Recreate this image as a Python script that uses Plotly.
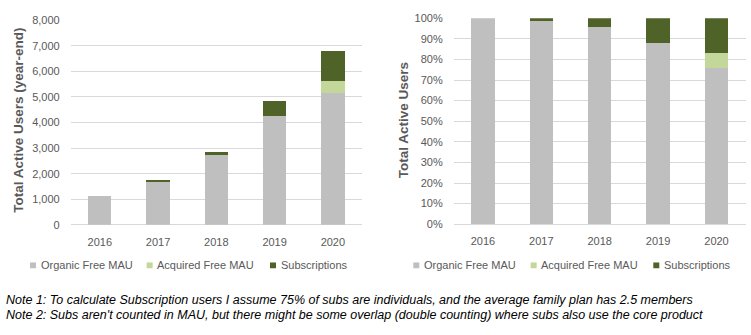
import plotly.graph_objects as go

years = ["2016", "2017", "2018", "2019", "2020"]
organic = [1130, 1705, 2740, 4270, 5160]
acquired = [0, 0, 0, 0, 480]
subs = [0, 25, 125, 590, 1150]

series_names = ["Organic Free MAU", "Acquired Free MAU", "Subscriptions"]
colors = ["#bfbfbf", "#c4d79b", "#4f6228"]
left_ticks = [0, 1000, 2000, 3000, 4000, 5000, 6000, 7000, 8000]
right_ticks = [0, 10, 20, 30, 40, 50, 60, 70, 80, 90, 100]

notes = [
    "Note 1: To calculate Subscription users I assume 75% of subs are individuals, and the average family plan has 2.5 members",
    "Note 2: Subs aren't counted in MAU, but there might be some overlap (double counting) where subs also use the core product",
]

totals = [o + a + s for o, a, s in zip(organic, acquired, subs)]
pct = [[v / t * 100 for v, t in zip(ser, totals)] for ser in (organic, acquired, subs)]

W, H = 751, 335
TXT = "#595959"
FONT = "Liberation Sans"

fig = go.Figure()
for i, ser in enumerate((organic, acquired, subs)):
    fig.add_trace(go.Bar(x=years, y=ser, name=series_names[i], marker_color=colors[i],
                         marker_line_width=0, xaxis="x", yaxis="y", showlegend=False))
for i, ser in enumerate(pct):
    fig.add_trace(go.Bar(x=years, y=ser, name=series_names[i], marker_color=colors[i],
                         marker_line_width=0, xaxis="x2", yaxis="y2", showlegend=False))

def px(x):
    return x / W

def py(y):
    return 1 - y / H

axis_common = dict(showline=False, ticks="", tickfont=dict(family=FONT, size=11, color=TXT))
fig.update_layout(
    width=W, height=H, margin=dict(l=0, r=0, t=0, b=0),
    paper_bgcolor="white", plot_bgcolor="white",
    barmode="stack", bargap=0.6,
    font=dict(family=FONT, color=TXT),
    xaxis=dict(domain=[px(70.7), px(362)], anchor="y", showgrid=False, ticklabelstandoff=9,
               **axis_common),
    yaxis=dict(domain=[py(227), py(14.7)], anchor="x", range=[0, 8000], tickvals=left_ticks,
               tickformat=",d", gridcolor="#d9d9d9", gridwidth=1, zeroline=True,
               zerolinecolor="#d9d9d9", zerolinewidth=1, ticklabelstandoff=10, **axis_common),
    xaxis2=dict(domain=[px(453.7), px(745.7)], anchor="y2", showgrid=False, ticklabelstandoff=9,
                **axis_common),
    yaxis2=dict(domain=[py(226.3), py(12.7)], anchor="x2", range=[0, 100], tickvals=right_ticks,
                ticktext=[f"{t}%" for t in right_ticks], gridcolor="#d9d9d9", gridwidth=1,
                zeroline=True, zerolinecolor="#d9d9d9", zerolinewidth=1, ticklabelstandoff=10,
                **axis_common),
    showlegend=False,
)

# Legend (drawn as layout shapes + text to match the compact spacing)
legend_y = 269
legend_sq_left = [[30, 146.7, 270], [413.3, 530.7, 653.3]]
for row in legend_sq_left:
    for name, col, x0 in zip(series_names, colors, row):
        fig.add_shape(type="rect", xref="paper", yref="paper",
                      x0=px(x0), x1=px(x0 + 6), y0=py(legend_y + 3), y1=py(legend_y - 3),
                      fillcolor=col, line_width=0)
        fig.add_annotation(text=name, xref="paper", yref="paper", x=px(x0 + 8.5), y=py(legend_y),
                           xanchor="left", yanchor="middle", showarrow=False,
                           font=dict(family=FONT, size=11, color=TXT))

fig.add_annotation(text="<b>Total Active Users (year-end)</b>", xref="paper", yref="paper",
                   x=px(19), y=py(119), textangle=-90, showarrow=False,
                   font=dict(family=FONT, size=13.5, color=TXT), xanchor="center", yanchor="middle")
fig.add_annotation(text="<b>Total Active Users</b>", xref="paper", yref="paper",
                   x=px(403), y=py(118.5), textangle=-90, showarrow=False,
                   font=dict(family=FONT, size=13.5, color=TXT), xanchor="center", yanchor="middle")
for note, yy in zip(notes, [304.5, 320]):
    fig.add_annotation(text=f"<i>{note}</i>", xref="paper", yref="paper",
                       x=px(4), y=py(yy), showarrow=False, xanchor="left", yanchor="middle",
                       font=dict(family=FONT, size=12.5, color="#000000"))

fig.write_html("out.html")
